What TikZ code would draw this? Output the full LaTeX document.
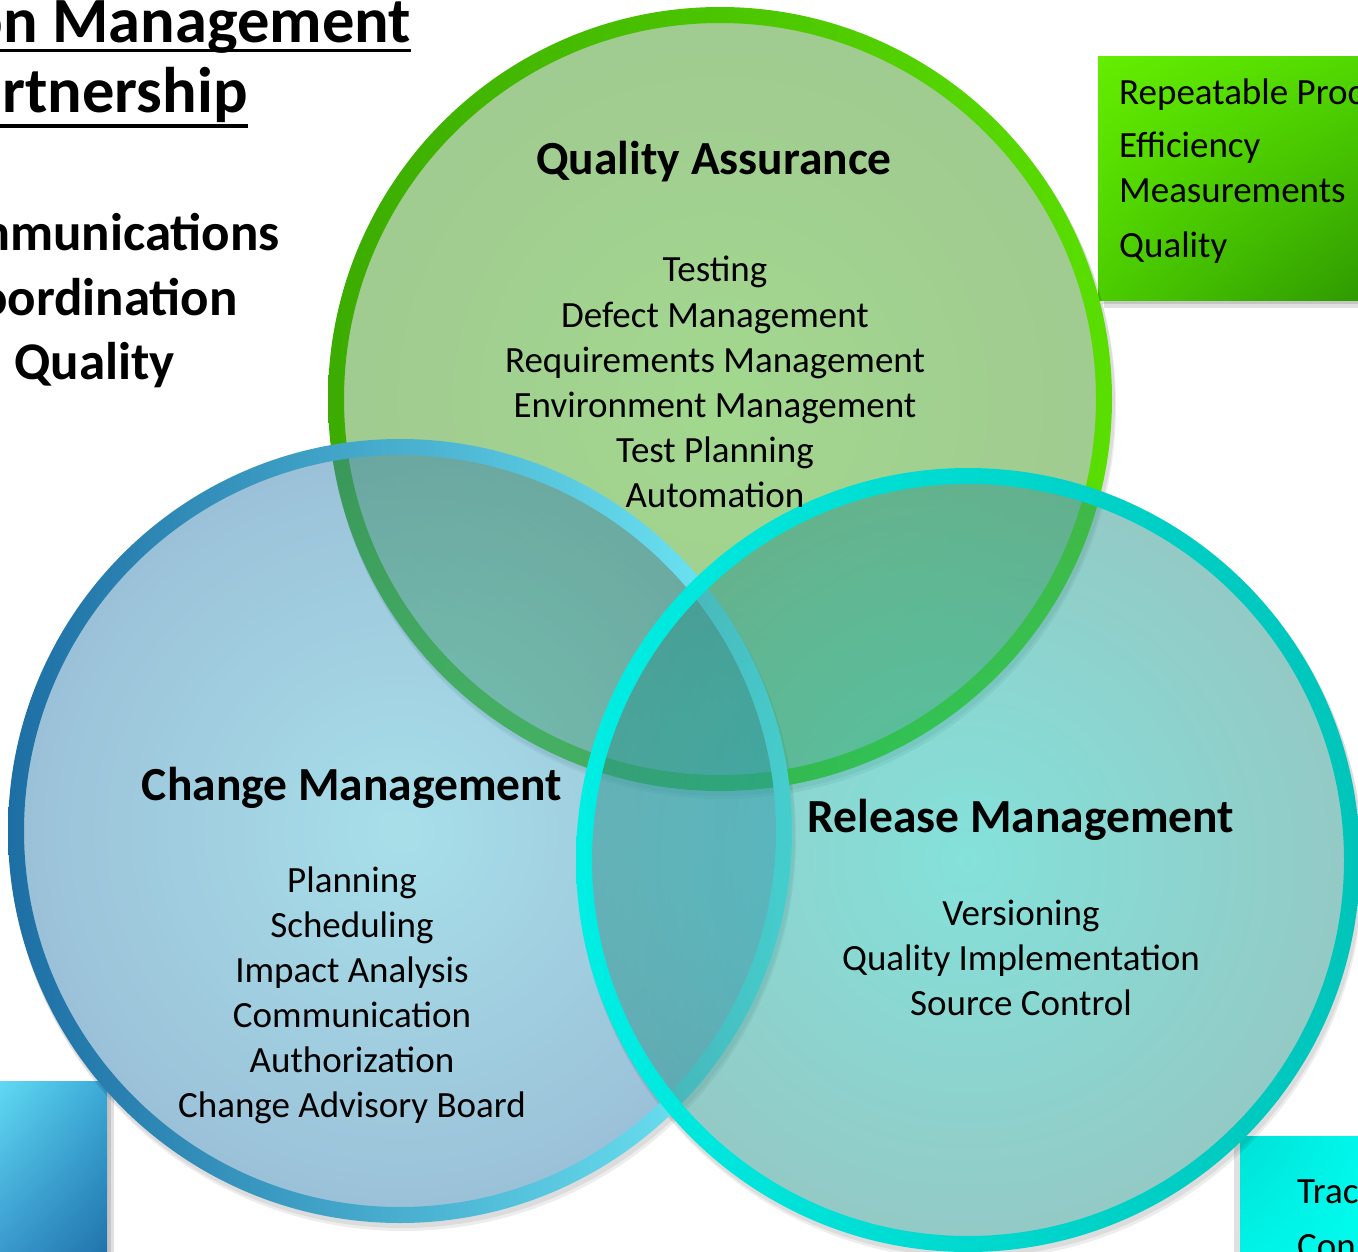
\documentclass[tikz,border=0pt]{standalone}
\usepackage{fontspec}
\setmainfont{Carlito}
\usetikzlibrary{positioning, shadings}

\definecolor{qafill}{RGB}{66,150,35}
\definecolor{qaglow}{RGB}{70,178,30}
\definecolor{cmfill}{RGB}{55,130,178}
\definecolor{cmglow}{RGB}{80,192,212}
\definecolor{rmfill}{RGB}{40,148,140}
\definecolor{rmglow}{RGB}{10,196,182}
\definecolor{qaringA}{RGB}{60,172,0}
\definecolor{qaringB}{RGB}{90,222,0}
\definecolor{cmringA}{RGB}{29,110,164}
\definecolor{cmringB}{RGB}{116,240,250}
\definecolor{rmringA}{RGB}{0,238,228}
\definecolor{rmringB}{RGB}{0,196,186}
\definecolor{gbUL}{RGB}{100,238,0}
\definecolor{gbUR}{RGB}{80,215,0}
\definecolor{gbLL}{RGB}{75,205,0}
\definecolor{gbLR}{RGB}{45,150,0}
\definecolor{bbUL}{RGB}{100,222,245}
\definecolor{bbUR}{RGB}{60,170,215}
\definecolor{bbLL}{RGB}{55,150,205}
\definecolor{bbLR}{RGB}{30,110,168}
\definecolor{cbUL}{RGB}{0,225,215}
\definecolor{cbUR}{RGB}{0,250,238}
\definecolor{cbLL}{RGB}{0,245,232}
\definecolor{cbLR}{RGB}{0,255,240}

\begin{document}
\begin{tikzpicture}[x=1pt,y=-1pt]

\tikzset{head/.style = {font=\bfseries\fontsize{47.5}{57}\selectfont, anchor=base, inner sep=0pt}}
\tikzset{item/.style = {font=\fontsize{37}{45}\selectfont, anchor=base, inner sep=0pt}}
\tikzset{side/.style = {font=\bfseries\fontsize{53}{65}\selectfont, anchor=base east, inner sep=0pt}}
\tikzset{banner/.style = {font=\bfseries\fontsize{64.5}{77}\selectfont, anchor=base east, inner sep=0pt}}
\tikzset{boxtext/.style = {font=\fontsize{37}{45}\selectfont, anchor=base west, inner sep=0pt}}
\tikzset{ring/.style = {even odd rule}}
\tikzset{boxshadow/.style = {fill=black, opacity=.12}}
\tikzset{roundshadow/.style = {even odd rule, fill=black, opacity=.07}}

\useasboundingbox (0,0) rectangle (1358,1252);
\clip (0,0) rectangle (1358,1252);

% side boxes
\fill[boxshadow] (1104,63) rectangle (1380,308);
\fill[boxshadow] (1102,61) rectangle (1380,304);
\shade[upper left=gbUL, upper right=gbUR, lower left=gbLL, lower right=gbLR]
  (1098,57) rectangle (1380,300);
\fill[boxshadow] (-10,1087) rectangle (114,1270);
\fill[boxshadow] (-10,1084) rectangle (111,1270);
\shade[upper left=bbUL, upper right=bbUR, lower left=bbLL, lower right=bbLR]
  (-10,1081) rectangle (107,1270);
\fill[boxshadow] (1234,1142) rectangle (1380,1270);
\shade[upper left=cbUL, upper right=cbUR, lower left=cbLL, lower right=cbLR]
  (1240,1136) rectangle (1380,1270);

% circles
\coordinate (qa) at (720,399);
\coordinate (cm) at (400,831);
\coordinate (rm) at (968,860);

\foreach \c in {qa, cm, rm} {
  \fill[roundshadow] ([shift={(2,4)}]\c) circle (393pt) (\c) circle (391pt);
  \fill[roundshadow] ([shift={(3,7)}]\c) circle (393pt) (\c) circle (391pt);
}

\shade[fill opacity=.5, inner color=qaglow, outer color=qafill] (qa) circle (384pt);
\shade[ring, left color=qaringA, right color=qaringB] (qa) circle (392pt) (qa) circle (376pt);

\shade[fill opacity=.5, inner color=cmglow, outer color=cmfill] (cm) circle (384pt);
\shade[ring, left color=cmringA, right color=cmringB] (cm) circle (392pt) (cm) circle (376pt);

\shade[fill opacity=.5, inner color=rmglow, outer color=rmfill] (rm) circle (384pt);
\shade[ring, left color=rmringA, right color=rmringB] (rm) circle (392pt) (rm) circle (376pt);

% quality assurance
\node[head] (qah) at (714,175) {Quality Assurance};
\foreach \t [count=\i] in {Testing, Defect Management, Requirements Management,
  Environment Management, Test Planning, Automation}
  \node[item] (qa\i) at (715,237+45*\i) {\t};

% change management
\node[head] (cmh) at (352,800) {Change Management};
\foreach \t [count=\i] in {Planning, Scheduling, Impact Analysis, Communication,
  Authorization, Change Advisory Board}
  \node[item] (cm\i) at (352,847+45*\i) {\t};

% release management
\node[head] (rmh) at (1021,832) {Release Management};
\foreach \t [count=\i] in {Versioning, Quality Implementation, Source Control}
  \node[item] (rm\i) at (1021,880+45*\i) {\t};

% left text
\node[banner] (ban1) at (411,43) {on Management};
\node[banner] (ban2) at (248,113) {rtnership};
\draw[line width=3.5pt] ([yshift=-7.5pt]ban1.base east) -- ++(-430,0);
\draw[line width=3.5pt] ([yshift=-13pt]ban2.base east) -- ++(-270,0);
\node[side] (sd1) at (280,251) {mmunications};
\node[side] (sd2) at (238,315) {oordination};
\node[side] (sd3) at (175,379) {Quality};

% box text
\node[boxtext] (bx1) at (1119,105) {Repeatable Proc};
\node[boxtext] (bx2) at (1119,158) {Efficiency};
\node[boxtext] (bx3) at (1119,203) {Measurements};
\node[boxtext] (bx4) at (1119,258) {Quality};
\node[boxtext] (bx5) at (1297,1203) {Trac};
\node[boxtext] (bx6) at (1297,1258) {Con};

\end{tikzpicture}
\end{document}
